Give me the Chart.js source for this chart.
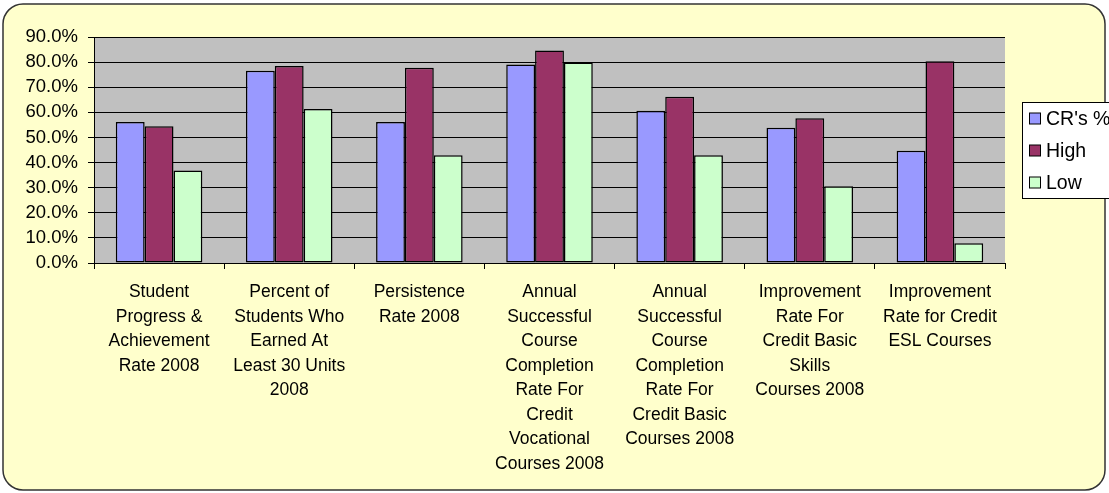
<!DOCTYPE html>
<html>
<head>
<meta charset="utf-8">
<script src="https://cdn.jsdelivr.net/npm/chart.js@4.4.1/dist/chart.umd.min.js"></script>
<style>
html,body{margin:0;padding:0;background:#ffffff;}
#wrap{position:relative;width:1109px;height:493px;}
canvas{display:block;}
</style>
</head>
<body>
<div id="wrap"><canvas id="c" width="1109" height="493"></canvas></div>
<script>
const categories = [
  ["Student","Progress &","Achievement","Rate 2008"],
  ["Percent of","Students Who","Earned At","Least 30 Units","2008"],
  ["Persistence","Rate 2008"],
  ["Annual","Successful","Course","Completion","Rate For","Credit","Vocational","Courses 2008"],
  ["Annual","Successful","Course","Completion","Rate For","Credit Basic","Courses 2008"],
  ["Improvement","Rate For","Credit Basic","Skills","Courses 2008"],
  ["Improvement","Rate for Credit","ESL Courses"]
];
const seriesNames = ["CR's %", "High", "Low"];
const crValues   = [56.2, 76.6, 56.2, 79.0, 60.6, 53.9, 44.7];
const highValues = [54.5, 78.5, 77.8, 84.6, 66.2, 57.6, 80.3];
const lowValues  = [36.8, 61.3, 42.9, 79.8, 42.9, 30.6, 7.9];
const yTicks = [0, 10, 20, 30, 40, 50, 60, 70, 80, 90];

const colors = ['#9999FF', '#993366', '#CCFFCC'];
const FONT = "'Liberation Sans', Arial, sans-serif";

const bgPlugin = {
  id: 'bg',
  beforeDraw(chart) {
    const ctx = chart.ctx;
    ctx.save();
    const x0 = 3, y0 = 4, x1 = 1105, y1 = 490, r = 20;
    ctx.beginPath();
    ctx.moveTo(x0 + r, y0);
    ctx.lineTo(x1 - r, y0);
    ctx.arcTo(x1, y0, x1, y0 + r, r);
    ctx.lineTo(x1, y1 - r);
    ctx.arcTo(x1, y1, x1 - r, y1, r);
    ctx.lineTo(x0 + r, y1);
    ctx.arcTo(x0, y1, x0, y1 - r, r);
    ctx.lineTo(x0, y0 + r);
    ctx.arcTo(x0, y0, x0 + r, y0, r);
    ctx.closePath();
    ctx.fillStyle = '#FFFFCC';
    ctx.fill();
    ctx.lineWidth = 1.5;
    ctx.strokeStyle = '#333333';
    ctx.stroke();
    const a = chart.chartArea;
    ctx.fillStyle = '#C0C0C0';
    ctx.fillRect(a.left, a.top, a.right - a.left, a.bottom - a.top);
    ctx.restore();
  },
  afterDraw(chart) {
    const ctx = chart.ctx;
    ctx.save();
    const lx = 1022, ly = 102, lw = 120, lh = 96;
    ctx.fillStyle = '#ffffff';
    ctx.fillRect(lx, ly, lw, lh);
    ctx.strokeStyle = '#000000';
    ctx.lineWidth = 1;
    ctx.strokeRect(lx + 0.5, ly + 0.5, lw, lh);
    const rows = [118.5, 150.5, 182.5];
    ctx.font = '19.5px ' + FONT;
    ctx.textBaseline = 'middle';
    chart.data.datasets.forEach((ds, i) => {
      const cy = rows[i];
      ctx.fillStyle = ds.backgroundColor;
      ctx.fillRect(1029.5, cy - 5.5, 11, 11);
      ctx.strokeStyle = '#000';
      ctx.strokeRect(1029.5, cy - 5.5, 11, 11);
      ctx.fillStyle = '#000';
      ctx.fillText(ds.label, 1046, cy + 1);
    });
    ctx.restore();
  }
};

new Chart(document.getElementById('c'), {
  type: 'bar',
  data: {
    labels: categories,
    datasets: [
      { label: seriesNames[0], data: crValues, backgroundColor: colors[0] },
      { label: seriesNames[1], data: highValues, backgroundColor: colors[1] },
      { label: seriesNames[2], data: lowValues, backgroundColor: colors[2] }
    ].map(d => Object.assign(d, { borderColor: '#000', borderWidth: 1.5, borderSkipped: false, categoryPercentage: 0.665, barPercentage: 1.0 }))
  },
  options: {
    responsive: false,
    animation: false,
    events: [],
    layout: { padding: { left: 2, right: 104, top: 37, bottom: 0 } },
    plugins: { legend: { display: false }, tooltip: { enabled: false } },
    scales: {
      x: {
        grid: { offset: true, drawOnChartArea: false, drawTicks: true, tickLength: 6, color: '#000' },
        border: { color: '#000', width: 1 },
        ticks: {
          color: '#000', maxRotation: 0, minRotation: 0, autoSkip: false, padding: 11,
          font: { family: FONT, size: 17.5, lineHeight: 1.4 }
        },
        afterFit(s) { s.height = 230; }
      },
      y: {
        min: 0, max: 90,
        afterBuildTicks(s) { s.ticks = yTicks.map(v => ({ value: v })); },
        grid: { color: '#000', lineWidth: 1, tickLength: 6, drawTicks: true },
        border: { color: '#000', width: 1 },
        ticks: {
          color: '#000', padding: 10, autoSkip: false,
          font: { family: FONT, size: 18.5, lineHeight: 1 },
          callback: v => v.toFixed(1) + '%'
        },
        afterFit(s) { s.width = 92; }
      }
    }
  },
  plugins: [bgPlugin]
});
</script>
</body>
</html>
